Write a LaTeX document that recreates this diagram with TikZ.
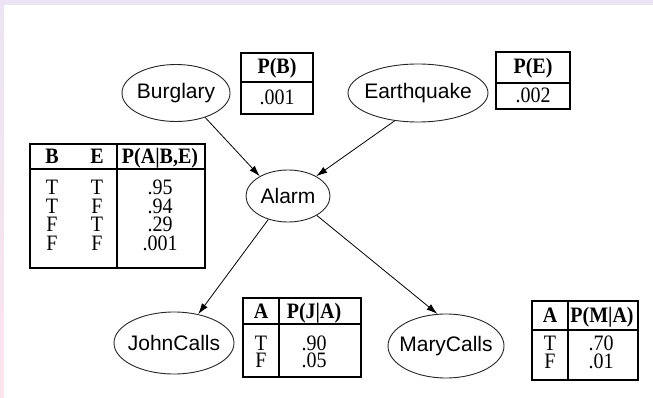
\documentclass[tikz,border=0pt]{standalone}
\usepackage{graphicx}
\usepackage{fontspec}
\setmainfont{Liberation Serif}
\setsansfont{Liberation Sans}
\usetikzlibrary{shapes.geometric,arrows.meta}
\definecolor{lav}{HTML}{ECE4F4}
\definecolor{pinkish}{HTML}{FCE4EE}
\newcommand\vst[1]{\scalebox{1}[1.1]{#1}}
\begin{document}
\begin{tikzpicture}[x=1pt,y=-1pt,
  var/.style={ellipse,draw=black!85,line width=0.9pt,inner sep=0pt,font=\sffamily\fontsize{21}{21}\selectfont},
  cpt/.style={draw=black,line width=1.3pt},
  sepline/.style={line width=2.2pt},
  hd/.style={font=\bfseries\fontsize{20}{20}\selectfont,anchor=base,inner sep=0pt},
  tx/.style={font=\fontsize{20}{20}\selectfont,anchor=base,inner sep=0pt},
  arr/.style={-{Latex[length=11pt,width=7pt]},line width=0.8pt}
]
\useasboundingbox (0,0) rectangle (653,398);
\fill[white] (0,0) rectangle (653,398);
\shade[top color=lav,bottom color=pinkish] (0,0) rectangle (4,398);
\fill[lav] (0,0) rectangle (653,5);

% variables
\node[var,minimum width=108pt,minimum height=57pt] (b) at (176,93) {\makebox[0pt]{Burglary}};
\node[var,minimum width=140pt,minimum height=58pt] (e) at (418,93) {\makebox[0pt]{Earthquake}};
\node[var,minimum width=84pt,minimum height=52pt] (a) at (288,196) {\makebox[0pt]{Alarm}};
\node[var,minimum width=120pt,minimum height=62pt] (j) at (174,343) {\makebox[0pt]{JohnCalls}};
\node[var,minimum width=116pt,minimum height=64pt] (m) at (446,346) {\makebox[0pt]{MaryCalls}};

% edges
\draw[arr] (b.-40) -- (a.145);
\draw[arr] (e.-130) -- (a.35);
\draw[arr] (a.-130) -- (j.50);
\draw[arr] (a.-34) -- (m.105);

% P(B)
\draw[cpt] (241,53) rectangle (313,114);
\draw[sepline] (241,82) -- (313,82);
\node[hd] (pbh) at (277,74) {\vst{P(B)}};
\node[tx] (pbv) at (277,105) {\vst{.001}};

% P(E)
\draw[cpt] (496,52) rectangle (570,109);
\draw[sepline] (496,83) -- (570,83);
\node[hd] (peh) at (533,74) {\vst{P(E)}};
\node[tx] (pev) at (533,103) {\vst{.002}};

% P(A|B,E)
\draw[cpt] (30,144) rectangle (205,268);
\draw[sepline] (30,169) -- (205,169);
\draw[cpt] (117,144) -- (117,268);
\node[hd] (ah1) at (52,164) {\vst{B}};
\node[hd] (ah2) at (97,164) {\vst{E}};
\node[hd] (ah3) at (160,164) {\vst{P(A|B,E)}};
\node[tx] (a11) at (52,195) {\vst{T}}; \node[tx] (a12) at (97,195) {\vst{T}}; \node[tx] (a13) at (160,195) {\vst{.95}};
\node[tx] (a21) at (52,213.5) {\vst{T}}; \node[tx] (a22) at (97,213.5) {\vst{F}}; \node[tx] (a23) at (160,213.5) {\vst{.94}};
\node[tx] (a31) at (52,232) {\vst{F}}; \node[tx] (a32) at (97,232) {\vst{T}}; \node[tx] (a33) at (160,232) {\vst{.29}};
\node[tx] (a41) at (52,251) {\vst{F}}; \node[tx] (a42) at (97,251) {\vst{F}}; \node[tx] (a43) at (160,251) {\vst{.001}};

% P(J|A)
\draw[cpt] (243,298) rectangle (361,377);
\draw[sepline] (243,324) -- (361,324);
\draw[cpt] (279,298) -- (279,377);
\node[hd] (jh1) at (261,318) {\vst{A}};
\node[hd] (jh2) at (314,318) {\vst{P(J|A)}};
\node[tx] (j11) at (261,350) {\vst{T}}; \node[tx] (j12) at (314,350) {\vst{.90}};
\node[tx] (j21) at (261,367) {\vst{F}}; \node[tx] (j22) at (314,367) {\vst{.05}};

% P(M|A)
\draw[cpt] (532,301) rectangle (638,380);
\draw[sepline] (532,330) -- (638,330);
\draw[cpt] (568,301) -- (568,380);
\node[hd] (mh1) at (550,322) {\vst{A}};
\node[hd] (mh2) at (602,322) {\vst{P(M|A)}};
\node[tx] (m11) at (550,350) {\vst{T}}; \node[tx] (m12) at (601,350) {\vst{.70}};
\node[tx] (m21) at (550,368) {\vst{F}}; \node[tx] (m22) at (601,368) {\vst{.01}};
\end{tikzpicture}
\end{document}
